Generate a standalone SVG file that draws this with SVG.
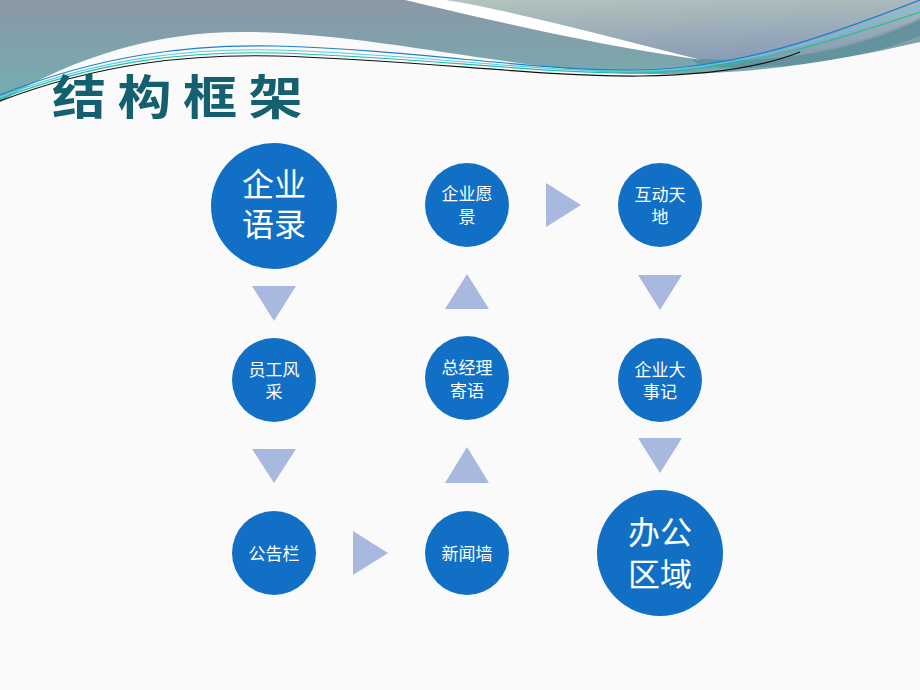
<svg xmlns="http://www.w3.org/2000/svg" width="920" height="690" viewBox="0 0 920 690">
  <defs>
    <linearGradient id="gTeal" x1="0" y1="0" x2="0" y2="1">
      <stop offset="0" stop-color="#8b98a6"/>
      <stop offset="1" stop-color="#6fb2b2"/>
    </linearGradient>
    <linearGradient id="gGrey" x1="0" y1="0" x2="0.3" y2="1">
      <stop offset="0" stop-color="#b4c4be"/>
      <stop offset="1" stop-color="#8c9fb6"/>
    </linearGradient>
    <style>
      .node { fill: #1170c6; }
      .arrow { fill: #a9b8de; }
      .lbl { fill: #ffffff; font-family: "Noto Sans CJK SC", "Noto Sans", sans-serif; text-anchor: middle; }
      .sm { font-size: 17px; }
      .lg { font-size: 32px; }
      .ln { fill: none; stroke-width: 1.2; }
    </style>
  </defs>

  <!-- background -->
  <rect x="0" y="0" width="920" height="690" fill="#fafafa"/>
  <rect x="0" y="0" width="920" height="120" fill="url(#gTeal)"/>
  <path d="M446,0 C530,15 620,45 700,58 C780,64 860,45 920,18 L920,0 Z" fill="url(#gGrey)"/>
  <path d="M690,58 C780,66 860,48 920,20 L920,36 C860,60 780,72 700,66 Z" fill="#5f8f9c" opacity="0.85"/>
  <path d="M405,0 C470,15 590,45 702,60 C620,40 520,12 446,0 Z" fill="#ffffff"/>
  <path d="M0,102 C80,52 170,30 250,32 C380,34 520,72 645,74 C760,76 850,58 920,42 L920,690 L0,690 Z" fill="#fafafa"/>

  <!-- decorative lines -->
  <path class="ln" stroke="#1e7fd0" d="M0,95 C100,55 190,44 276,46 C420,50 540,72 640,70 C740,68 830,35 920,0"/>
  <path class="ln" stroke="#5ccbe6" d="M0,97 C100,58 190,48 276,50 C420,54 540,73 640,71 C740,69 830,38 920,6"/>
  <path class="ln" stroke="#22c0a4" d="M0,99 C100,60 190,51 276,53 C420,57 540,74 640,73 C740,71 830,42 920,12"/>
  <path class="ln" stroke="#111111" d="M0,101 C100,63 190,54 276,56 C420,60 540,77 640,76 C720,75 770,64 800,52"/>

  <!-- title -->
  <text transform="translate(52,114) scale(1.15,1)" x="0" y="0" font-family="Noto Sans CJK SC, sans-serif" font-size="47" font-weight="bold" letter-spacing="10" fill="#14606f">结构框架</text>

  <!-- connectors -->
  <g id="connectors">
    <polygon class="arrow" points="252,286 296,286 274,321"/>
    <polygon class="arrow" points="252,449 296,449 274,483"/>
    <polygon class="arrow" points="353,531 353,575 388,553"/>
    <polygon class="arrow" points="445,483 489,483 467,447"/>
    <polygon class="arrow" points="445,309 489,309 467,274"/>
    <polygon class="arrow" points="546,183 546,227 581,205"/>
    <polygon class="arrow" points="638,275 682,275 660,310"/>
    <polygon class="arrow" points="638,438 682,438 660,473"/>
  </g>

  <!-- nodes -->
  <g id="node-qiyeyulu">
    <circle class="node" cx="274" cy="206" r="63"/>
    <text class="lbl lg" x="274" y="196">企业</text>
    <text class="lbl lg" x="274" y="236">语录</text>
  </g>
  <g id="node-yuangongfengcai">
    <circle class="node" cx="274" cy="380" r="42"/>
    <text class="lbl sm" x="274" y="375.5">员工风</text>
    <text class="lbl sm" x="274" y="398">采</text>
  </g>
  <g id="node-gonggaolan">
    <circle class="node" cx="274" cy="553" r="42"/>
    <text class="lbl sm" x="274" y="559.5">公告栏</text>
  </g>
  <g id="node-xinwenqiang">
    <circle class="node" cx="467" cy="553" r="42"/>
    <text class="lbl sm" x="467" y="559.5">新闻墙</text>
  </g>
  <g id="node-zongjingli">
    <circle class="node" cx="467" cy="378" r="42"/>
    <text class="lbl sm" x="467" y="374">总经理</text>
    <text class="lbl sm" x="467" y="396.5">寄语</text>
  </g>
  <g id="node-qiyeyuanjing">
    <circle class="node" cx="467" cy="205" r="42"/>
    <text class="lbl sm" x="467" y="199.5">企业愿</text>
    <text class="lbl sm" x="467" y="223">景</text>
  </g>
  <g id="node-hudongtiandi">
    <circle class="node" cx="660" cy="205" r="42"/>
    <text class="lbl sm" x="660" y="200.5">互动天</text>
    <text class="lbl sm" x="660" y="223">地</text>
  </g>
  <g id="node-dashiji">
    <circle class="node" cx="660" cy="380" r="42"/>
    <text class="lbl sm" x="660" y="375.5">企业大</text>
    <text class="lbl sm" x="660" y="398">事记</text>
  </g>
  <g id="node-bangongquyu">
    <circle class="node" cx="660" cy="553" r="63"/>
    <text class="lbl lg" x="660" y="544">办公</text>
    <text class="lbl lg" x="660" y="586">区域</text>
  </g>
</svg>
